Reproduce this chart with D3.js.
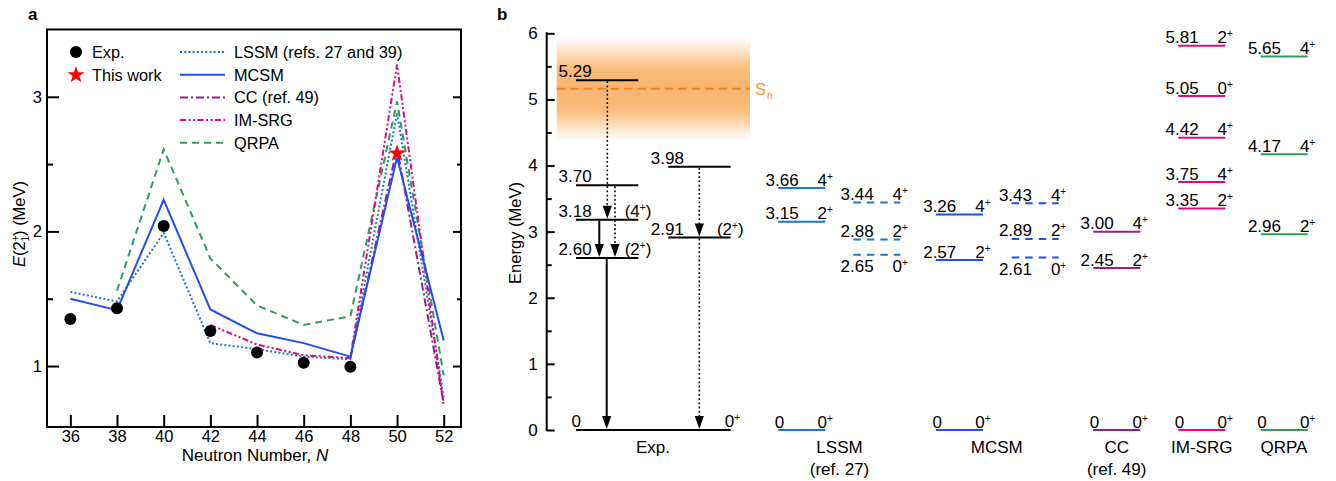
<!DOCTYPE html>
<html><head><meta charset="utf-8">
<script src="https://cdn.jsdelivr.net/npm/d3@7"></script>
<style>
body{margin:0;background:#fff}
text{font-family:"Liberation Sans",Arial,Helvetica,sans-serif;fill:#000}
</style>
</head><body>
<svg id="chart" width="1336" height="481"></svg>
<script>
// ---------- Panel a data ----------
const nTicks = [36, 38, 40, 42, 44, 46, 48, 50, 52];
const e2Ticks = [1, 2, 3];
const e2MinorTicks = [1.5, 2.5];
const expN = [36, 38, 40, 42, 44, 46, 48];
const expE2 = [1.35, 1.43, 2.04, 1.26, 1.10, 1.025, 0.995];
const thisWorkN = [50];
const thisWorkE2 = [2.58];
const lssmN = [36, 38, 40, 42, 44, 46, 48, 50, 52];
const lssmE2 = [1.55, 1.48, 1.99, 1.17, 1.125, 1.07, 1.05, 2.88, 0.77];
const mcsmN = [36, 38, 40, 42, 44, 46, 48, 50, 52];
const mcsmE2 = [1.50, 1.415, 2.235, 1.42, 1.243, 1.17, 1.07, 2.55, 1.19];
const ccN = [48, 50, 52];
const ccE2 = [1.06, 2.62, 0.72];
const imsrgN = [42, 44, 46, 48, 50, 52];
const imsrgE2 = [1.305, 1.16, 1.08, 1.06, 3.24, 0.70];
const qrpaN = [38, 40, 42, 44, 46, 48, 50, 52];
const qrpaE2 = [1.56, 2.61, 1.80, 1.45, 1.305, 1.37, 2.965, 0.93];
const seriesNames = ["LSSM (refs. 27 and 39)", "MCSM", "CC (ref. 49)", "IM-SRG", "QRPA"];

// ---------- Panel b data ----------
const energyTicks = [0, 1, 2, 3, 4, 5, 6];
const energyMinorTicks = [0.5, 1.5, 2.5, 3.5, 4.5, 5.5];
const snEnergy = 5.16;
const snBand = [4.38, 5.93];
// Exp levels [energy, value label, spin label]
const expLeftLevels = [[5.29, "5.29", ""], [3.70, "3.70", ""], [3.18, "3.18", "(4+)"], [2.60, "2.60", "(2+)"]];
const expRightLevels = [[3.98, "3.98", ""], [2.91, "2.91", "(2+)"]];
const expGround = [0, "0", "0+"];
const solidTransitions = [[3.18, 2.60], [2.60, 0]];
const dottedTransitions = [[5.29, 3.18], [3.70, 2.60], [3.98, 2.91], [2.91, 0]];
// theory levels [energy, spin]
const lssmSolid = [[0, "0"], [3.15, "2"], [3.66, "4"]];
const lssmDashed = [[2.65, "0"], [2.88, "2"], [3.44, "4"]];
const mcsmSolid = [[0, "0"], [2.57, "2"], [3.26, "4"]];
const mcsmDashed = [[2.61, "0"], [2.89, "2"], [3.43, "4"]];
const ccLevels = [[0, "0"], [2.45, "2"], [3.00, "4"]];
const imsrgLevels = [[0, "0"], [3.35, "2"], [3.75, "4"], [4.42, "4"], [5.05, "0"], [5.81, "2"]];
const qrpaLevels = [[0, "0"], [2.96, "2"], [4.17, "4"], [5.65, "4"]];
const columnNames = ["Exp.", "LSSM", "MCSM", "CC", "IM-SRG", "QRPA"];
const columnRefs = ["", "(ref. 27)", "", "(ref. 49)", "", ""];

// ---------- styles ----------
const C = {lssm: "#1b78c4", mcsm: "#1f4ff2", cc: "#9c1c8e", imsrg: "#e5077f", qrpa: "#2f9b5f", sn: "#f7901e"};
const FS = 17;

const svg = d3.select("#chart");

// ================= Panel a =================
const A = {l: 47, r: 461, t: 29.5, b: 427};
const xA = d3.scaleLinear().domain([35, 52.74]).range([A.l, A.r]);
const yA = d3.scaleLinear().domain([0.547, 3.5]).range([A.b, A.t]);
const ga = svg.append("g");

ga.append("text").attr("x", 28).attr("y", 20).attr("font-weight", "bold").attr("font-size", 17).text("a");

const axB = ga.append("g").attr("transform", `translate(0,${A.b})`)
  .call(d3.axisBottom(xA).tickValues(nTicks).tickSize(-12).tickPadding(3.5));
const axL = ga.append("g").attr("transform", `translate(${A.l},0)`)
  .call(d3.axisLeft(yA).tickValues(e2Ticks).tickSize(-12).tickPadding(5).tickFormat(d3.format("d")));
const axLm = ga.append("g").attr("transform", `translate(${A.l},0)`)
  .call(d3.axisLeft(yA).tickValues(e2MinorTicks).tickSize(-6).tickFormat(""));
const axR = ga.append("g").attr("transform", `translate(${A.r},0)`)
  .call(d3.axisRight(yA).tickValues(e2Ticks).tickSize(-8).tickFormat(""));
const axRm = ga.append("g").attr("transform", `translate(${A.r},0)`)
  .call(d3.axisRight(yA).tickValues(e2MinorTicks).tickSize(-4).tickFormat(""));
[axB, axL, axLm, axR, axRm].forEach(g => {
  g.select(".domain").remove();
  g.selectAll(".tick line").attr("stroke", "#000").attr("stroke-width", 2);
  g.selectAll(".tick text").attr("font-size", 16.5).attr("fill", "#000")
   .style("font-family", '"Liberation Sans",Arial,sans-serif');
});
ga.append("rect").attr("x", A.l).attr("y", A.t).attr("width", A.r - A.l).attr("height", A.b - A.t)
  .attr("fill", "none").attr("stroke", "#000").attr("stroke-width", 2);

const xl = ga.append("text").attr("x", 255).attr("y", 461).attr("text-anchor", "middle").attr("font-size", 17);
xl.append("tspan").text("Neutron Number, ");
xl.append("tspan").attr("font-style", "italic").text("N");
const yl = ga.append("text").attr("transform", "translate(25,224) rotate(-90)").attr("text-anchor", "middle").attr("font-size", 16.5);
yl.append("tspan").attr("font-style", "italic").text("E");
yl.append("tspan").text("(2");
yl.append("tspan").attr("font-size", 10).attr("dy", -6).text("+");
yl.append("tspan").attr("font-size", 10).attr("dx", -6).attr("dy", 10).text("1");
yl.append("tspan").attr("dy", -4).text(") (MeV)");

const lineGen = d3.line().x(d => xA(d[0])).y(d => yA(d[1]));
const seriesDefs = [
  {n: lssmN, v: lssmE2, c: C.lssm, dash: "2,2.2", w: 2},
  {n: qrpaN, v: qrpaE2, c: C.qrpa, dash: "7,5", w: 2},
  {n: ccN, v: ccE2, c: C.cc, dash: "8,3,2,3", w: 2},
  {n: imsrgN, v: imsrgE2, c: C.imsrg, dash: "6,2.5,2,2.5,2,2.5", w: 2},
  {n: mcsmN, v: mcsmE2, c: C.mcsm, dash: null, w: 2}
];
const plotG = ga.append("g");
seriesDefs.forEach(s => {
  plotG.append("path").datum(d3.zip(s.n, s.v)).attr("d", lineGen)
    .attr("fill", "none").attr("stroke", s.c).attr("stroke-width", s.w)
    .attr("stroke-dasharray", s.dash);
});
ga.selectAll("circle.exp").data(d3.zip(expN, expE2)).join("circle").attr("class", "exp")
  .attr("cx", d => xA(d[0])).attr("cy", d => yA(d[1])).attr("r", 6).attr("fill", "#000");
const star = d3.symbol(d3.symbolStar).size(92);
ga.selectAll("path.star").data(d3.zip(thisWorkN, thisWorkE2)).join("path").attr("class", "star")
  .attr("d", star).attr("fill", "#ff0000")
  .attr("transform", d => `translate(${xA(d[0])},${yA(d[1])})`);

// legend
ga.append("circle").attr("cx", 76).attr("cy", 52).attr("r", 6).attr("fill", "#000");
ga.append("text").attr("x", 92).attr("y", 57.5).attr("font-size", 16.3).text("Exp.");
ga.append("path").attr("d", star).attr("fill", "#ff0000").attr("transform", "translate(76,75)");
ga.append("text").attr("x", 92).attr("y", 81).attr("font-size", 16.3).text("This work");
const legendStyles = [
  {c: C.lssm, dash: "2,2.2"}, {c: C.mcsm, dash: null}, {c: C.cc, dash: "8,3,2,3"},
  {c: C.imsrg, dash: "6,2.5,2,2.5,2,2.5"}, {c: C.qrpa, dash: "7,5"}
];
seriesNames.forEach((name, i) => {
  const y = 52 + i * 22.7;
  ga.append("line").attr("x1", 180).attr("x2", 225).attr("y1", y).attr("y2", y)
    .attr("stroke", legendStyles[i].c).attr("stroke-width", 2).attr("stroke-dasharray", legendStyles[i].dash);
  ga.append("text").attr("x", 234).attr("y", y + 6).attr("font-size", 16.3).text(name);
});

// ================= Panel b =================
const gb = svg.append("g");
const axX = 546.7;
const yB = d3.scaleLinear().domain([0, 6]).range([430, 33.3]);
gb.append("text").attr("x", 497).attr("y", 20).attr("font-weight", "bold").attr("font-size", 17).text("b");

const defs = svg.append("defs");
const grad = defs.append("linearGradient").attr("id", "snGrad").attr("x1", 0).attr("x2", 0).attr("y1", 0).attr("y2", 1);
[[0, 0.0], [0.3, 0.62], [0.5, 0.68], [0.7, 0.62], [1, 0.0]].forEach(s =>
  grad.append("stop").attr("offset", s[0]).attr("stop-color", "#f7922a").attr("stop-opacity", s[1]));
gb.append("rect").attr("x", 556.7).attr("width", 750 - 556.7)
  .attr("y", yB(snBand[1])).attr("height", yB(snBand[0]) - yB(snBand[1])).attr("fill", "url(#snGrad)");
gb.append("line").attr("x1", 556.7).attr("x2", 750).attr("y1", yB(snEnergy)).attr("y2", yB(snEnergy))
  .attr("stroke", "#f08222").attr("stroke-width", 2).attr("stroke-dasharray", "8.5,5");
const snT = gb.append("text").attr("x", 755).attr("y", yB(snEnergy) + 6).attr("font-size", 16.5).style("fill", C.sn);
snT.append("tspan").text("S");
snT.append("tspan").attr("font-size", 10).attr("dy", 4).attr("dx", 1).text("n");

const ayB = gb.append("g").attr("transform", `translate(${axX},0)`)
  .call(d3.axisLeft(yB).tickValues(energyTicks).tickSize(-8).tickPadding(9).tickFormat(d3.format("d")));
const ayBm = gb.append("g").attr("transform", `translate(${axX},0)`)
  .call(d3.axisLeft(yB).tickValues(energyMinorTicks).tickSize(-5).tickFormat(""));
[ayB, ayBm].forEach(g => {
  g.select(".domain").remove();
  g.selectAll(".tick line").attr("stroke", "#000").attr("stroke-width", 2);
  g.selectAll(".tick text").attr("font-size", FS).attr("fill", "#000")
   .style("font-family", '"Liberation Sans",Arial,sans-serif');
});
gb.append("line").attr("x1", axX).attr("x2", axX).attr("y1", yB(6) - 1).attr("y2", yB(0) + 1)
  .attr("stroke", "#000").attr("stroke-width", 2);
gb.append("text").attr("transform", "translate(521,233) rotate(-90)").attr("text-anchor", "middle")
  .attr("font-size", 16.5).text("Energy (MeV)");

function spinText(g, x, y, spin, color, anchor) {
  const t = g.append("text").attr("x", x).attr("y", y).attr("font-size", FS).attr("text-anchor", anchor).style("fill", color);
  const paren = spin.startsWith("(");
  const base = spin.replace(/[()+]/g, "");
  t.append("tspan").text((paren ? "(" : "") + base);
  t.append("tspan").attr("font-size", 10).attr("dy", -6).text("+");
  if (paren) t.append("tspan").attr("dy", 6).text(")");
  return t;
}

// Exp column
const LW = 47;
const expX = d3.scaleOrdinal().domain(["left", "right"]).range([576, 668.3]);
const expW = 62.3;
function drawExpLevel(d, side) {
  const x0 = expX(side), y = yB(d[0]);
  gb.append("line").attr("x1", x0).attr("x2", x0 + expW).attr("y1", y).attr("y2", y)
    .attr("stroke", "#000").attr("stroke-width", 2);
  gb.append("text").attr("x", x0 - 17.5).attr("y", y - 3).attr("font-size", FS).text(d[1]);
  if (d[2]) spinText(gb, x0 + expW + 13, y - 3, d[2], "#000", "end");
}
expLeftLevels.forEach(d => drawExpLevel(d, "left"));
expRightLevels.forEach(d => drawExpLevel(d, "right"));
{
  const y = yB(expGround[0]);
  gb.append("line").attr("x1", expX("left")).attr("x2", expX("right") + expW).attr("y1", y).attr("y2", y)
    .attr("stroke", "#000").attr("stroke-width", 2);
  gb.append("text").attr("x", expX("left") - 4.5).attr("y", y - 3).attr("font-size", FS).text(expGround[1]);
  spinText(gb, expX("right") + expW + 9.5, y - 3, expGround[2], "#000", "end");
}
const solidXs = [599.3, 606.7];
const dottedXs = [607.3, 615, 699.3, 699.3];
function arrow(x, eFrom, eTo, dotted) {
  const y1 = yB(eFrom) + 1, tip = yB(eTo) - 1, h = 13, w = 4.6;
  gb.append("line").attr("x1", x).attr("x2", x).attr("y1", y1).attr("y2", tip - h + 1)
    .attr("stroke", "#000").attr("stroke-width", dotted ? 1.6 : 2)
    .attr("stroke-dasharray", dotted ? "1.8,2.4" : null);
  gb.append("path").attr("d", `M${x - w},${tip - h}L${x + w},${tip - h}L${x},${tip}Z`).attr("fill", "#000");
}
solidTransitions.forEach((t, i) => arrow(solidXs[i], t[0], t[1], false));
dottedTransitions.forEach((t, i) => arrow(dottedXs[i], t[0], t[1], true));

// theory columns
const colKeys = ["lssmS", "lssmD", "mcsmS", "mcsmD", "cc", "imsrg", "qrpa"];
const colX = d3.scaleOrdinal().domain(colKeys).range([778.3, 853.3, 936, 1011.7, 1093.3, 1178.3, 1260.7]);
const theoryCols = [
  {key: "lssmS", data: lssmSolid, c: C.lssm, dashed: false},
  {key: "lssmD", data: lssmDashed, c: C.lssm, dashed: true},
  {key: "mcsmS", data: mcsmSolid, c: C.mcsm, dashed: false},
  {key: "mcsmD", data: mcsmDashed, c: C.mcsm, dashed: true},
  {key: "cc", data: ccLevels, c: C.cc, dashed: false},
  {key: "imsrg", data: imsrgLevels, c: C.imsrg, dashed: false},
  {key: "qrpa", data: qrpaLevels, c: C.qrpa, dashed: false}
];
theoryCols.forEach(col => {
  const x0 = colX(col.key);
  col.data.forEach(d => {
    const y = yB(d[0]);
    gb.append("line").attr("x1", x0).attr("x2", x0 + LW).attr("y1", y).attr("y2", y)
      .attr("stroke", col.c).attr("stroke-width", 2).attr("stroke-dasharray", col.dashed ? "7.5,6" : null);
    const below = col.dashed && d[1] === "0" && d[0] > 0;
    const ty = below ? y + 17.5 : y - 2.5;
    const isZero = d[0] === 0;
    gb.append("text").attr("x", isZero ? x0 - 3.5 : x0 - 12.8).attr("y", ty).attr("font-size", FS)
      .text(isZero ? "0" : d3.format(".2f")(d[0]));
    spinText(gb, x0 + LW + 7.5, ty, d[1] + "+", "#000", "end");
  });
});

const nameX = d3.scaleOrdinal().domain(columnNames).range([653, 839.5, 996.7, 1116.7, 1201.7, 1284]);
columnNames.forEach((n, i) => {
  gb.append("text").attr("x", nameX(n)).attr("y", 452.5).attr("text-anchor", "middle").attr("font-size", FS).text(n);
  if (columnRefs[i]) gb.append("text").attr("x", nameX(n)).attr("y", 475).attr("text-anchor", "middle").attr("font-size", FS).text(columnRefs[i]);
});
</script>
</body></html>
